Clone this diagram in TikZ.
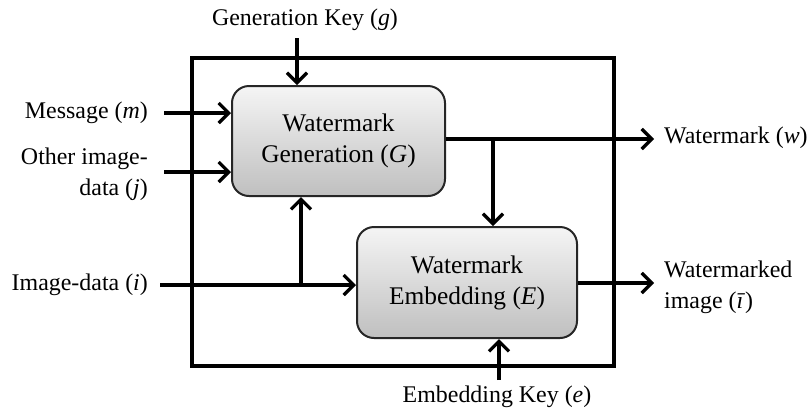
\documentclass[tikz,border=0pt]{standalone}
\usepackage{fontspec}
\setmainfont{Liberation Serif}
\usetikzlibrary{arrows.meta,calc}
\begin{document}
\begin{tikzpicture}[x=1bp,y=-1bp,
  lbl/.style={font=\fontsize{24}{31}\selectfont, inner sep=0pt},
  block/.style={draw=black!85, line width=2bp, rounded corners=17bp,
     top color=gray!8, bottom color=gray!50, align=center,
     font=\fontsize{25.5}{31}\selectfont, inner sep=0pt},
  conn/.style={line width=3.3bp, -{Straight Barb[length=10bp,width=20bp,line width=3.3bp]}},
  plain/.style={line width=3.3bp}
]
\useasboundingbox (0,0) rectangle (812,408);
% outer frame
\draw[line width=4bp] (192,58) rectangle (614,366);
% blocks
\node[block, minimum width=213bp, minimum height=110bp] (G) at (338.5,141) {Watermark\\Generation (\textit{G})};
\node[block, minimum width=220bp, minimum height=111bp] (E) at (467,282.5) {Watermark\\Embedding (\textit{E})};
% labels
\node[lbl] (gk) at (305,20) {Generation Key (\textit{g})};
\node[lbl] (ek) at (497,397) {Embedding Key (\textit{e})};
\node[lbl, anchor=east] (msg) at (148,113) {Message (\textit{m})};
\node[lbl, anchor=east, align=right] (oth) at (148,174) {Other image-\\data (\textit{j})};
\node[lbl, anchor=east] (img) at (148,285) {Image-data (\textit{i})};
\node[lbl, anchor=west] (wm) at (664,138) {Watermark (\textit{w})};
\node[lbl, anchor=west, align=left] (wmi) at (664,287) {Watermarked\\image (\textit{ī})};
% reference points
\coordinate (m0) at (164,113);
\coordinate (j0) at (164,172);
\coordinate (i0) at (160,285);
\coordinate (br) at (301,285);
\coordinate (gk0) at (297,38);
\coordinate (ek0) at (499,380);
\coordinate (wsplit) at (493,139);
\coordinate (w1) at (654,139);
\coordinate (wi1) at (654,283);
% connectors
\draw[conn] (m0) -- (m0 -| G.west);
\draw[conn] (j0) -- (j0 -| G.west);
\draw[plain] (i0) -- (br);
\draw[conn] (br) -- (E.west |- br);
\draw[conn] (br) -- (br |- G.south);
\draw[conn] (gk0) -- (gk0 |- G.north);
\draw[conn] (ek0) -- (ek0 |- E.south);
\draw[conn] (G.east |- wsplit) -- (w1);
\draw[conn] (wsplit) -- (wsplit |- E.north);
\draw[conn] (E.east |- wi1) -- (wi1);
\end{tikzpicture}
\end{document}
